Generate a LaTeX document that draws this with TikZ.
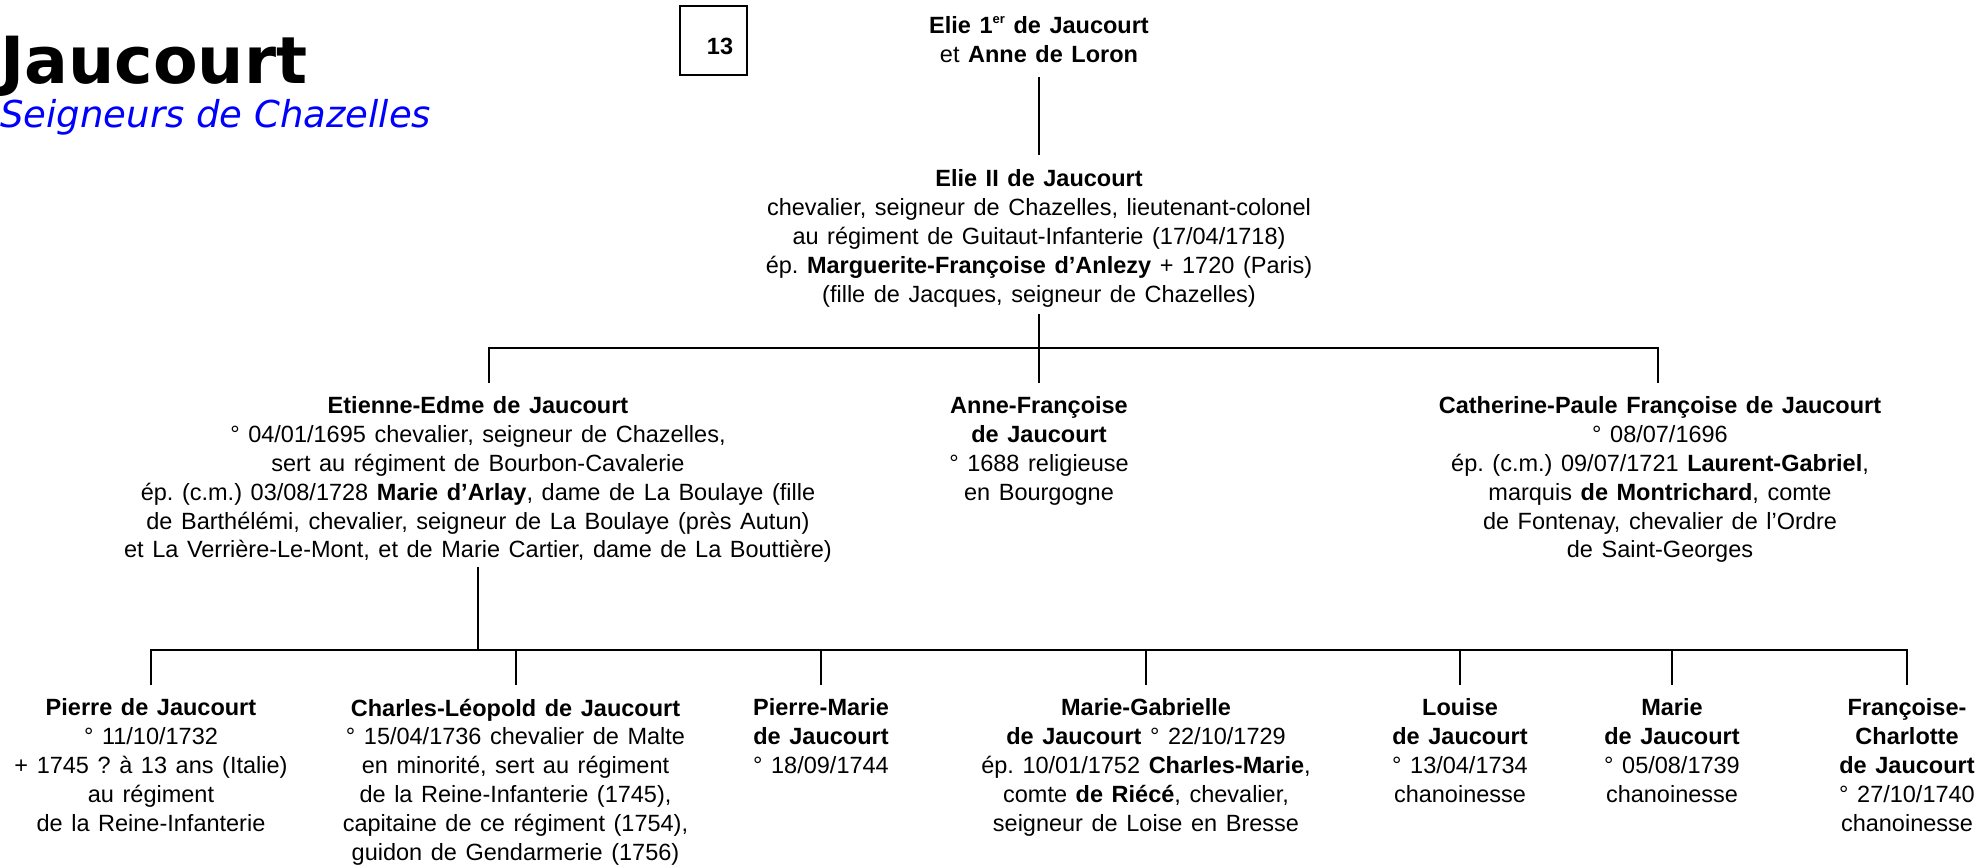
\documentclass[tikz,border=0pt]{standalone}
\usepackage{fontspec}
\setmainfont{Liberation Sans}
\newfontfamily\titlefont{DejaVu Sans}[BoldFont={DejaVu Sans Bold},ItalicFont={DejaVu Sans Oblique}]
\usetikzlibrary{calc}
\frenchspacing
\newcommand\personfont{\fontsize{11.75}{14.4}\selectfont\spaceskip=4.3pt\relax}

\begin{document}
\begin{tikzpicture}[x=0.5pt, y=-0.5pt,
  person/.style={align=center, anchor=north, inner sep=0pt, font=\personfont},
  vline/.style={line width=1pt},
  hline/.style={line width=1.4pt, line cap=rect}]
\useasboundingbox (0,0) rectangle (1986,864);

\node[anchor=base west, inner sep=0pt, font=\titlefont\bfseries\fontsize{32.5}{36}\selectfont] (titre) at (0,83) {Jaucourt};
\node[anchor=base west, inner sep=0pt, text=blue, font=\titlefont\itshape\fontsize{18.5}{22}\selectfont] (soustitre) at (0,127) {Seigneurs de Chazelles};
\draw[line width=0.8pt] (680,6) rectangle (747,75);
\node[font=\bfseries\fontsize{11.75}{14.4}\selectfont] (planche) at (720,46) {13};

\node[person] (elie1) at (1039,16.4) {\textbf{Elie 1\smash{\raisebox{0.42em}{\fontsize{6.5}{7}\selectfont er}} de Jaucourt}\\et \textbf{Anne de Loron}};
\node[person] (elie2) at (1039,169.4) {\textbf{Elie II de Jaucourt}\\chevalier, seigneur de Chazelles, lieutenant-colonel\\au régiment de Guitaut-Infanterie (17/04/1718)\\ép. \textbf{Marguerite-Françoise d’Anlezy} + 1720 (Paris)\\(fille de Jacques, seigneur de Chazelles)};

\node[person] (etienne) at (478,396.4) {\textbf{Etienne-Edme de Jaucourt}\\° 04/01/1695 chevalier, seigneur de Chazelles,\\sert au régiment de Bourbon-Cavalerie\\ép. (c.m.) 03/08/1728 \textbf{Marie d’Arlay}, dame de La Boulaye (fille\\de Barthélémi, chevalier, seigneur de La Boulaye (près Autun)\\et La Verrière-Le-Mont, et de Marie Cartier, dame de La Bouttière)};
\node[person] (anne) at (1039,396.4) {\textbf{Anne-Françoise}\\\textbf{de Jaucourt}\\° 1688 religieuse\\en Bourgogne};
\node[person] (catherine) at (1660,396.4) {\textbf{Catherine-Paule Françoise de Jaucourt}\\° 08/07/1696\\ép. (c.m.) 09/07/1721 \textbf{Laurent-Gabriel},\\marquis \textbf{de Montrichard}, comte\\de Fontenay, chevalier de l’Ordre\\de Saint-Georges};

\node[person] (pierre) at (151,698.4) {\textbf{Pierre de Jaucourt}\\° 11/10/1732\\+ 1745 ? à 13 ans (Italie)\\au régiment\\de la Reine-Infanterie};
\node[person] (charles) at (515.5,698.4) {\textbf{Charles-Léopold de Jaucourt}\\° 15/04/1736 chevalier de Malte\\en minorité, sert au régiment\\de la Reine-Infanterie (1745),\\capitaine de ce régiment (1754),\\guidon de Gendarmerie (1756)};
\node[person] (pmarie) at (821,698.4) {\textbf{Pierre-Marie}\\\textbf{de Jaucourt}\\° 18/09/1744};
\node[person] (mgab) at (1146,698.4) {\textbf{Marie-Gabrielle}\\\textbf{de Jaucourt} ° 22/10/1729\\ép. 10/01/1752 \textbf{Charles-Marie},\\comte \textbf{de Riécé}, chevalier,\\seigneur de Loise en Bresse};
\node[person] (louise) at (1460,698.4) {\textbf{Louise}\\\textbf{de Jaucourt}\\° 13/04/1734\\chanoinesse};
\node[person] (marie) at (1672,698.4) {\textbf{Marie}\\\textbf{de Jaucourt}\\° 05/08/1739\\chanoinesse};
\node[person] (fcharl) at (1907,698.4) {\textbf{Françoise-}\\\textbf{Charlotte}\\\textbf{de Jaucourt}\\° 27/10/1740\\chanoinesse};

\coordinate (bar1) at (1039,348);
\coordinate (bar2) at (479,650);

\draw[vline] ([yshift=-6.8pt]elie1.south) -- ([yshift=7.2pt]elie2.north);
\draw[vline] ([yshift=-3.3pt]elie2.south) -- (elie2.south |- bar1);
\draw[hline] ([xshift=5.5pt]etienne.north |- bar1) -- ([xshift=-1pt]catherine.north |- bar1);
\foreach \n/\dx in {etienne/5.5pt, anne/0pt, catherine/-1pt}
  \draw[vline] ([xshift=\dx]\n.north |- bar1) -- ([xshift=\dx, yshift=6.7pt]\n.north);

\draw[vline] ([yshift=-1.8pt]etienne.south) -- (etienne.south |- bar2);
\draw[hline] (pierre.north |- bar2) -- (fcharl.north |- bar2);
\foreach \n in {pierre,charles,pmarie,mgab,louise,marie,fcharl}
  \draw[vline] (\n.north |- bar2) -- ([yshift=6.7pt]\n.north);
\end{tikzpicture}
\end{document}
